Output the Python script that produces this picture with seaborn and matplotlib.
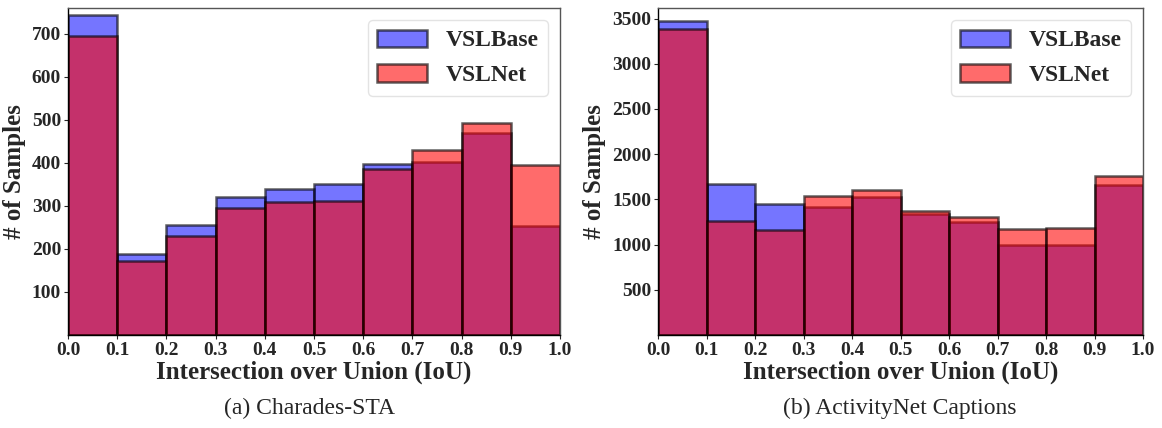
import numpy as np
import pandas as pd
import matplotlib
matplotlib.use("Agg")
import matplotlib.pyplot as plt
import seaborn as sns

# ---- data (counts per IoU bin) ----
bin_edges = [0.0, 0.1, 0.2, 0.3, 0.4, 0.5, 0.6, 0.7, 0.8, 0.9, 1.0]
charades_vslbase = [743, 188, 255, 320, 340, 352, 397, 402, 469, 253]
charades_vslnet = [695, 172, 231, 296, 309, 312, 386, 430, 492, 396]
anet_vslbase = [3475, 1665, 1450, 1413, 1530, 1335, 1245, 990, 997, 1662]
anet_vslnet = [3385, 1265, 1158, 1538, 1600, 1376, 1309, 1177, 1185, 1755]
x_ticks = [0.0, 0.1, 0.2, 0.3, 0.4, 0.5, 0.6, 0.7, 0.8, 0.9, 1.0]
charades_yticks = [100, 200, 300, 400, 500, 600, 700]
anet_yticks = [500, 1000, 1500, 2000, 2500, 3000, 3500]
series_names = ["VSLBase", "VSLNet"]
captions = ["(a) Charades-STA", "(b) ActivityNet Captions"]

sns.set_style("white")
plt.rcParams["font.family"] = ["Liberation Serif", "DejaVu Serif"]

fig = plt.figure(figsize=(11.62, 4.28), dpi=100)
W, H = 1162, 428
ax1 = fig.add_axes([68 / W, (H - 335) / H, (560 - 68) / W, (335 - 8) / H])
ax2 = fig.add_axes([658 / W, (H - 335) / H, (1143 - 658) / W, (335 - 8) / H])

centers = [(bin_edges[i] + bin_edges[i + 1]) / 2 for i in range(len(bin_edges) - 1)]


def draw(ax, base, net, yticks, ylim):
    df = pd.DataFrame({
        "iou": centers * 2,
        "count": list(base) + list(net),
        "model": [series_names[0]] * len(base) + [series_names[1]] * len(net),
    })
    for name, col, a in zip(series_names, ["blue", "red"], [0.54, 0.58]):
        sub = df[df["model"] == name]
        sns.histplot(data=sub, x="iou", weights="count", bins=bin_edges,
                     color=col, alpha=a, edgecolor=(0, 0, 0, 0.62),
                     linewidth=1.8, ax=ax, label=name)
    ax.set_xlim(0, 1)
    ax.set_ylim(0, ylim)
    ax.set_xticks(x_ticks)
    ax.set_xticklabels([f"{t:.1f}" for t in x_ticks])
    ax.set_yticks(yticks)
    for lab in ax.get_xticklabels() + ax.get_yticklabels():
        lab.set_fontweight("bold")
        lab.set_fontsize(14)
    ax.tick_params(axis="both", length=3, width=0.8, pad=2, left=True, bottom=True)
    ax.set_xlabel("Intersection over Union (IoU)", fontsize=18, fontweight="bold", labelpad=1)
    ax.set_ylabel("# of Samples", fontsize=18, fontweight="bold", labelpad=4)
    for s in ax.spines.values():
        s.set_color("#555555")
        s.set_linewidth(1.0)
    ax.spines["bottom"].set_color("black")
    ax.spines["left"].set_color("black")
    leg = ax.legend(loc="upper right", prop={"weight": "bold", "size": 17},
                    handlelength=2.1, handleheight=0.75, handletextpad=0.8,
                    borderpad=0.4, labelspacing=0.55, borderaxespad=0,
                    frameon=True, fancybox=True,
                    bbox_to_anchor=(0.976, 0.963))
    leg.get_frame().set_edgecolor("#dddddd")
    leg.get_frame().set_linewidth(1.0)


draw(ax1, charades_vslbase, charades_vslnet, charades_yticks, 760)
draw(ax2, anet_vslbase, anet_vslnet, anet_yticks, 3617)

for txt, cx in zip(captions, [310, 900]):
    fig.text(cx / W, (H - 408) / H, txt, ha="center", va="center", fontsize=17)

fig.savefig("out.png", dpi=100)
